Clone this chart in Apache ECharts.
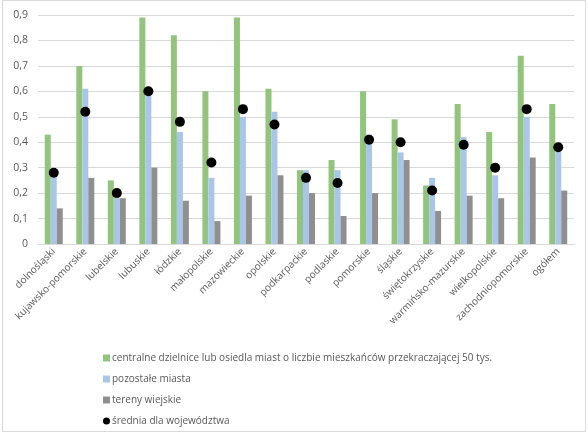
<!DOCTYPE html>
<html><head><meta charset="utf-8">
<script src="https://cdn.jsdelivr.net/npm/echarts@6/dist/echarts.min.js"></script>
<style>html,body{margin:0;padding:0;background:#fff}#c{width:588px;height:437px}</style>
</head><body><div id="c"></div>
<script>
const categories = ['dolnośląski','kujawsko-pomorskie','lubelskie','lubuskie','łódzkie','małopolskie','mazowieckie','opolskie','podkarpackie','podlaskie','pomorskie','śląskie','świętokrzyskie','warmińsko-mazurskie','wielkopolskie','zachodniopomorskie','ogółem'];
const centralne = [0.43,0.70,0.25,0.89,0.82,0.60,0.89,0.61,0.29,0.33,0.60,0.49,0.23,0.55,0.44,0.74,0.55];
const pozostale = [0.27,0.61,0.18,0.59,0.44,0.26,0.50,0.52,0.29,0.29,0.43,0.36,0.26,0.42,0.27,0.50,0.37];
const wiejskie  = [0.14,0.26,0.18,0.30,0.17,0.09,0.19,0.27,0.20,0.11,0.20,0.33,0.13,0.19,0.18,0.34,0.21];
const srednia   = [0.28,0.52,0.20,0.60,0.48,0.32,0.53,0.47,0.26,0.24,0.41,0.40,0.21,0.39,0.30,0.53,0.38];
const seriesNames = ['centralne dzielnice lub osiedla miast o liczbie mieszkańców przekraczającej 50 tys.','pozostałe miasta','tereny wiejskie','średnia dla województwa'];

const font = 'Open Sans, Liberation Sans, sans-serif';
const chart = echarts.init(document.getElementById('c'), null, {renderer:'canvas'});
chart.setOption({
  animation:false,
  textStyle:{fontFamily:font},
  graphic:[{type:'rect',shape:{x:2.5,y:0.5,width:583,height:431},style:{fill:'none',stroke:'#d9d9d9',lineWidth:1},silent:true}],
  grid:{left:38,right:14,top:15,bottom:193,containLabel:false},
  legend:{
    orient:'vertical',left:98,top:348,itemGap:11,itemWidth:7,itemHeight:7,
    textStyle:{fontSize:10,color:'#595959',fontFamily:font,padding:[0,0,0,-3]},
    data:[{name:seriesNames[0],icon:'rect'},{name:seriesNames[1],icon:'rect'},{name:seriesNames[2],icon:'rect'},{name:seriesNames[3],icon:'circle',itemStyle:{opacity:1}}]
  },
  xAxis:{
    type:'category',data:categories,
    axisTick:{show:false},
    axisLine:{lineStyle:{color:'#d9d9d9'}},
    axisLabel:{rotate:45,fontSize:10,color:'#595959',interval:0,margin:6,fontFamily:font}
  },
  yAxis:{
    type:'value',min:0,max:0.9,interval:0.1,
    axisLabel:{fontSize:10.5,color:'#595959',margin:10,fontFamily:font,formatter:v=>v===0?'0':v.toFixed(1).replace('.',',')},
    splitLine:{lineStyle:{color:'#d9d9d9'}},
    axisLine:{show:false},axisTick:{show:false}
  },
  series:[
    {name:seriesNames[0],type:'bar',data:centralne,itemStyle:{color:'#93C47D'},barGap:'0%',barCategoryGap:'43%'},
    {name:seriesNames[1],type:'bar',data:pozostale,itemStyle:{color:'#A9C6E8'}},
    {name:seriesNames[2],type:'bar',data:wiejskie,itemStyle:{color:'#8F8F8F'}},
    {name:seriesNames[3],type:'scatter',data:srednia,symbolSize:10,itemStyle:{color:'#000',opacity:1},z:5}
  ]
});
</script></body></html>
